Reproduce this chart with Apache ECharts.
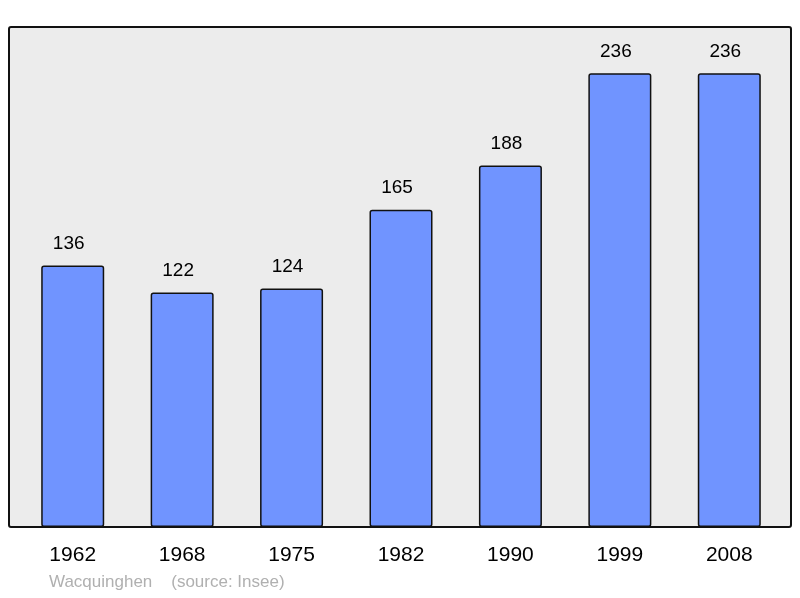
<!DOCTYPE html>
<html>
<head>
<meta charset="utf-8">
<script src="https://cdn.jsdelivr.net/npm/echarts@6/dist/echarts.min.js"></script>
<style>html,body{margin:0;padding:0;background:#fff}</style>
</head>
<body>
<div id="main" style="width:800px;height:598px"></div>
<script>
var years = ['1962', '1968', '1975', '1982', '1990', '1999', '2008'];
var population = [136, 122, 124, 165, 188, 236, 236];

var chart = echarts.init(document.getElementById('main'));
chart.setOption({
    animation: false,
    graphic: [
        {
            type: 'rect', z: -10,
            shape: {x: 9, y: 27, width: 782, height: 500, r: 2},
            style: {fill: '#ececec', stroke: '#111', lineWidth: 2}
        },
        {
            type: 'text', left: 49, top: 574,
            style: {text: 'Wacquinghen    (source: Insee)', fill: '#b0b0b0', font: '17px "Liberation Sans", Arial, sans-serif'}
        }
    ],
    grid: {left: 18, right: 16, top: 27, bottom: 71},
    xAxis: {
        type: 'category',
        data: years,
        axisLine: {show: false},
        axisTick: {show: false},
        axisLabel: {color: '#000', fontSize: 21, margin: 18, fontFamily: 'Liberation Sans'}
    },
    yAxis: {
        type: 'value', min: 0, max: 260,
        show: false
    },
    series: [{
        type: 'bar',
        data: population,
        barWidth: 63,
        itemStyle: {color: '#7094ff', borderColor: '#111', borderWidth: 1.5, borderRadius: 2},
        label: {show: true, position: 'top', distance: 12, offset: [-4, 0], color: '#000', fontSize: 19, fontFamily: 'Liberation Sans'}
    }]
});
</script>
</body>
</html>
